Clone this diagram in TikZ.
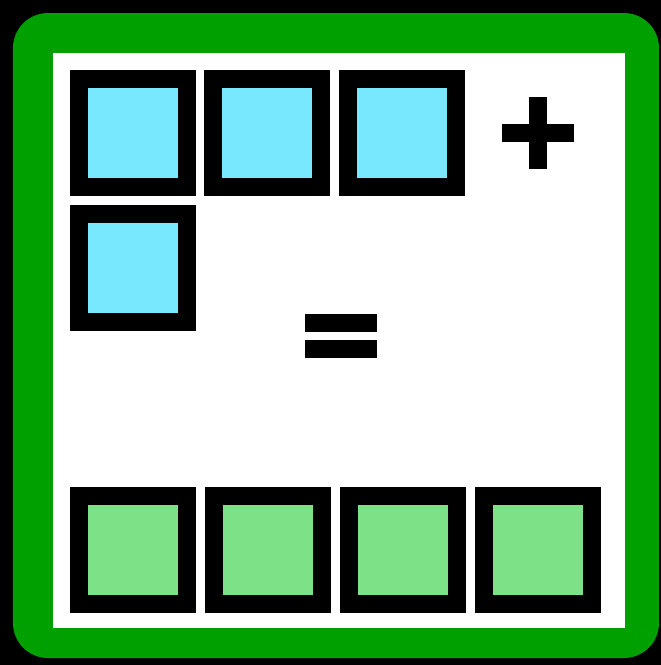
\documentclass[tikz,border=0pt]{standalone}
\usetikzlibrary{positioning}
\definecolor{frame}{RGB}{0,160,0}
\definecolor{addend}{RGB}{120,232,255}
\definecolor{result}{RGB}{125,226,135}

\begin{document}
\begin{tikzpicture}[x=0.1mm, y=-0.1mm, cell/.style={draw=black, line width=1.8mm, minimum size=10.8mm, inner sep=0pt}, a/.style={cell, fill=addend}, r/.style={cell, fill=result}, bar/.style={line width=1.75mm}]
	\fill[black] (0,0) rectangle (661,665);
	\useasboundingbox (0,0) rectangle (661,665);
	\fill[frame, rounded corners=3.5mm] (13,13) rectangle (659,658);
	\fill[white] (53,53) rectangle (625,628);
	% four squares on top, four below
	\foreach \i/\x in {1/133,2/267,3/402} {\node[a] (a\i) at (\x,133) {};}
	\node[a] (a4) at (133,268) {};
	\foreach \i/\x in {1/133,2/268,3/403,4/538} {\node[r] (r\i) at (\x,550) {};}
	% signs
	\coordinate (plus) at (538,133);
	\draw[bar] ([xshift=-3.6mm]plus) -- ([xshift=3.6mm]plus);
	\draw[bar] ([yshift=-3.6mm]plus) -- ([yshift=3.6mm]plus);
	\coordinate (eq) at (341,336);
	\draw[bar] ([shift={(-3.6mm,1.3mm)}]eq) -- ([shift={(3.6mm,1.3mm)}]eq);
	\draw[bar] ([shift={(-3.6mm,-1.3mm)}]eq) -- ([shift={(3.6mm,-1.3mm)}]eq);
\end{tikzpicture}
\end{document}
